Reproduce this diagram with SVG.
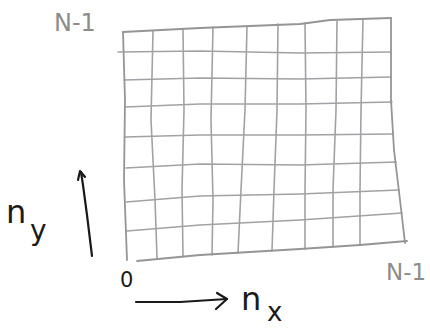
<svg xmlns="http://www.w3.org/2000/svg" width="430" height="328" viewBox="0 0 430 328">
<style>
.g{fill:none;stroke:#a2a2a6;stroke-width:1.6;stroke-linecap:round;stroke-linejoin:round}
.e{fill:none;stroke:#959595;stroke-width:1.8;stroke-linecap:round;stroke-linejoin:round}
.ax{fill:none;stroke:#1a1a1a;stroke-width:2.2;stroke-linecap:round;stroke-linejoin:round}
.lg{font-family:"DejaVu Sans",sans-serif;fill:#8c8c8c}
.lb{font-family:"DejaVu Sans",sans-serif;fill:#1a1a1a}
</style>
<rect width="430" height="328" fill="#ffffff"/>
<g id="grid">
  <path class="g" d="M153,31 L151,120 L155,200 L157,258"/>
  <path class="g" d="M183,29 L184,110 L182,190 L183,256"/>
  <path class="g" d="M213,27 L211,120 L213,200 L212,255"/>
  <path class="g" d="M247,26 L245,110 L241,190 L238,253"/>
  <path class="g" d="M278,24 L277,110 L274,190 L272,251"/>
  <path class="g" d="M305,23 L306,110 L305,190 L305,249"/>
  <path class="g" d="M337,21 L336,110 L333,190 L333,247"/>
  <path class="g" d="M363,19 L361,110 L360,190 L360,245"/>
  <path class="g" d="M118,52 L200,51 L300,53 L391,52"/>
  <path class="g" d="M124,80 L200,78 L300,79 L391,77"/>
  <path class="g" d="M125,107 L200,104 L300,104 L392,102"/>
  <path class="g" d="M125,137 L200,135 L300,135 L393,134"/>
  <path class="g" d="M126,168 L200,164 L300,165 L396,162"/>
  <path class="g" d="M126,202 L200,196 L300,194 L399,190"/>
  <path class="g" d="M127,231 L200,225 L300,220 L402,213"/>
</g>
<g id="frame">
  <path class="e" d="M123,32 L200,28 L300,24 L330,20 L391,18"/>
  <path class="e" d="M123,32 L125,100 L124,180 L127,260"/>
  <path class="e" d="M391,18 L391,60 L391,100 L394,150 L400,200 L405,243"/>
  <path class="e" d="M137,261 L200,255 L300,249 L360,245 L407,241"/>
</g>
<g id="labels">
  <text class="lg" x="54" y="31" font-size="24">N-1</text>
  <text class="lg" x="386" y="280" font-size="23">N-1</text>
  <text class="lb" x="120" y="287" font-size="21">0</text>
  <text class="lb" x="6" y="223" font-size="32">n</text>
  <text class="lb" x="30" y="240" font-size="28">y</text>
  <text class="lb" x="241" y="310" font-size="32">n</text>
  <text class="lb" x="267" y="321" font-size="26">x</text>
</g>
<g id="connectors">
  <path class="ax" d="M92,256 L87,215 L83,185 L81,172"/>
  <path class="ax" d="M78,180 L80,171 L85,177"/>
  <path class="ax" d="M136,302 L180,302 L227,299"/>
  <path class="ax" d="M217,293 L227,299 L216,309"/>
</g>
</svg>
